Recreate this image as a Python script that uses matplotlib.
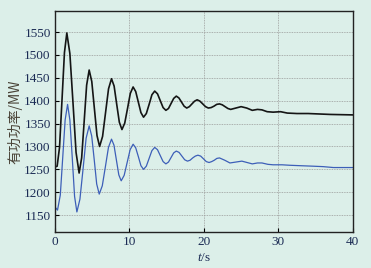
import matplotlib
matplotlib.use('Agg')
import matplotlib.pyplot as plt

plt.rcParams['mathtext.fontset'] = 'custom'
plt.rcParams['mathtext.it'] = 'Liberation Serif:italic'
plt.rcParams['mathtext.rm'] = 'Liberation Serif'

# black curve (upper)
t_black = [0, 0.3, 0.62, 0.95, 1.28, 1.6,
           2.01, 2.43, 2.84, 3.25,
           3.59, 3.93, 4.26, 4.6,
           4.95, 5.3, 5.65, 6.0,
           6.4, 6.8, 7.2, 7.6,
           7.95, 8.3, 8.65, 9.0,
           9.375, 9.75, 10.125, 10.5,
           10.85, 11.2, 11.55, 11.9,
           12.275, 12.65, 13.025, 13.4,
           13.775, 14.15, 14.525, 14.9,
           15.25, 15.6, 15.95, 16.3,
           16.65, 17.0, 17.35, 17.7,
           18.05, 18.4, 18.75, 19.1,
           19.475, 19.85, 20.225, 20.6,
           20.975, 21.35, 21.725, 22.1,
           22.475, 22.85, 23.225, 23.6,
           24.3, 25.0, 25.75, 26.5, 27.2, 27.8, 28.5, 29.3,
           30.3, 31.2, 32.5, 34, 35.5, 37, 40]
p_black = [1255, 1257, 1298, 1401, 1505, 1548,
           1503, 1395, 1287, 1242,
           1275, 1355, 1434, 1467,
           1442, 1383, 1324, 1300,
           1322, 1374, 1426, 1448,
           1432, 1392, 1353, 1337,
           1351, 1383, 1416, 1430,
           1420, 1397, 1374, 1364,
           1372, 1392, 1413, 1421,
           1415, 1400, 1385, 1379,
           1383, 1394, 1405, 1410,
           1406, 1397, 1388, 1384,
           1387, 1393, 1399, 1402,
           1399, 1393, 1387, 1384,
           1385, 1388, 1392, 1393,
           1391, 1387, 1383, 1381,
           1384, 1387, 1384, 1379, 1381, 1380, 1376, 1375,
           1376, 1373, 1372, 1372, 1371, 1370, 1369]

# blue curve (lower)
t_blue = [0, 0.35, 0.725, 1.05, 1.375, 1.7,
          2.01, 2.33, 2.64, 2.95,
          3.36, 3.78, 4.19, 4.6,
          4.94, 5.28, 5.61, 5.95,
          6.36, 6.78, 7.19, 7.6,
          7.93, 8.25, 8.58, 8.9,
          9.3, 9.7, 10.1, 10.5,
          10.85, 11.2, 11.55, 11.9,
          12.275, 12.65, 13.025, 13.4,
          13.775, 14.15, 14.525, 14.9,
          15.25, 15.6, 15.95, 16.3,
          16.675, 17.05, 17.425, 17.8,
          18.15, 18.5, 18.85, 19.2,
          19.575, 19.95, 20.325, 20.7,
          21.05, 21.4, 21.75, 22.1,
          22.8, 23.5, 24.3, 25.1, 25.8, 26.5, 27.2, 27.8, 28.6, 29.3,
          30.5, 31.5, 33, 34.6, 36, 37.4, 40]
p_blue = [1168, 1161, 1194, 1276, 1358, 1392,
          1358, 1275, 1191, 1157,
          1185, 1251, 1318, 1345,
          1323, 1271, 1218, 1196,
          1214, 1256, 1298, 1316,
          1303, 1271, 1238, 1225,
          1237, 1265, 1293, 1305,
          1297, 1278, 1258, 1250,
          1257, 1274, 1291, 1298,
          1293, 1280, 1267, 1262,
          1266, 1276, 1286, 1290,
          1287, 1279, 1271, 1268,
          1270, 1275, 1279, 1281,
          1279, 1273, 1267, 1265,
          1267, 1270, 1274, 1275,
          1270, 1264, 1266, 1268, 1265, 1262, 1264, 1264, 1261, 1260,
          1260, 1259, 1258, 1257, 1256, 1254, 1254]

x_ticks = [0, 10, 20, 30, 40]
y_ticks = [1150, 1200, 1250, 1300, 1350, 1400, 1450, 1500, 1550]

bg = '#dcefe9'
txt = '#1c2c55'

fig = plt.figure(figsize=(3.71, 2.68), dpi=100, facecolor=bg)
ax = fig.add_axes([0.148, 0.134, 0.803, 0.825], facecolor=bg)

ax.plot(t_blue, p_blue, color='#3d5fb8', lw=0.9)
ax.plot(t_black, p_black, color='#151515', lw=1.2)

ax.set_xlim(0, 40)
ax.set_ylim(1113, 1596)
ax.set_xticks(x_ticks)
ax.set_yticks(y_ticks)
ax.grid(True, color='#9a9a9a', ls=(0, (1, 1)), lw=0.6)

for s in ax.spines.values():
    s.set_linewidth(1.0)
    s.set_color('#222222')

ax.tick_params(direction='in', length=3, width=0.8, labelsize=9.5,
               labelcolor=txt, pad=3)
for lab in ax.get_xticklabels() + ax.get_yticklabels():
    lab.set_fontfamily('Liberation Serif')

ax.set_xlabel('$\\it{t}$/s', fontsize=9.5, color=txt,
              fontfamily='Liberation Serif', labelpad=3)
ax.set_ylabel('有功功率/MW', fontsize=10, color='#4a4438',
              fontfamily=['Noto Sans CJK SC', 'DejaVu Sans'], labelpad=1)

fig.savefig('out.png', dpi=100, facecolor=bg)
